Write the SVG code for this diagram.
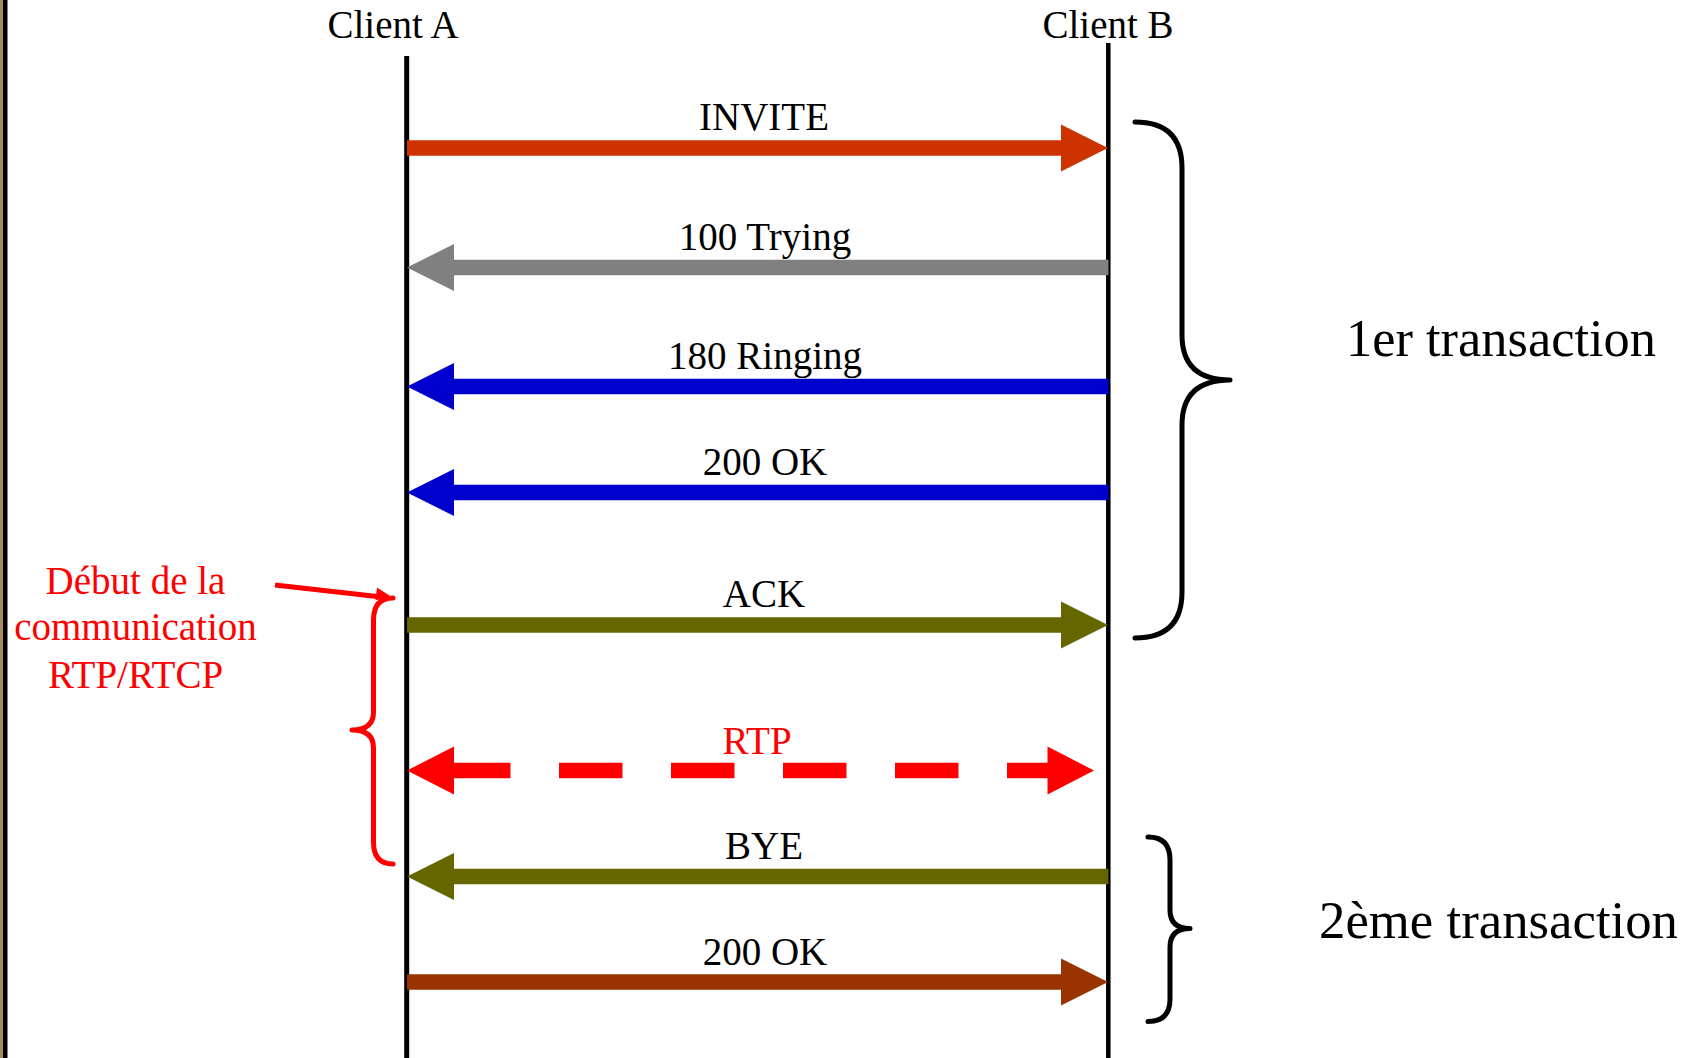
<svg xmlns="http://www.w3.org/2000/svg" width="1701" height="1058" viewBox="0 0 1701 1058">
<style>
  text { font-family: "Liberation Serif", "Times New Roman", serif; }
  .lbl { font-size: 39px; fill: #000; text-anchor: middle; }
  .red { fill: #FF0000; }
  .big { font-size: 52px; fill: #000; text-anchor: start; }
  .life { stroke: #000; fill: none; }
  .brace { fill: none; stroke-width: 5; stroke-linecap: round; stroke-linejoin: round; }
  .shaft { stroke-width: 15.5; fill: none; }
  .c-invite { stroke: #CC3300; fill: #CC3300; }
  .c-gray { stroke: #808080; fill: #808080; }
  .c-blue { stroke: #0000CC; fill: #0000CC; }
  .c-olive { stroke: #666600; fill: #666600; }
  .c-red { stroke: #FF0000; fill: #FF0000; }
  .c-brown { stroke: #993300; fill: #993300; }
  .head { stroke: none; }
</style>
<rect width="1701" height="1058" fill="#FFFFFF"/>
<g id="border">
  <rect x="0" y="0" width="3" height="1058" fill="#A88A5C"/>
  <rect x="3" y="0" width="4.5" height="1058" fill="#000"/>
</g>
<g id="client-a">
  <text class="lbl" x="393" y="38">Client A</text>
  <line class="life" x1="406.7" y1="56" x2="406.7" y2="1058" stroke-width="5"/>
</g>
<g id="client-b">
  <text class="lbl" x="1108" y="38">Client B</text>
  <line class="life" x1="1108.3" y1="43" x2="1108.3" y2="1058" stroke-width="4.5"/>
</g>
<g id="transaction-1">
  <path class="brace" stroke="#000" d="M1135,122 Q1182,122 1182,168 L1182,335 Q1182,380 1230,380 Q1182,380 1182,425 L1182,592 Q1182,638 1135,638"/>
  <text class="big" x="1346" y="356" textLength="310" lengthAdjust="spacingAndGlyphs">1er transaction</text>
</g>
<g id="transaction-2">
  <path class="brace" stroke="#000" d="M1148,837 Q1170,837 1170,860 L1170,910 Q1170,928.5 1190,928.5 Q1170,928.5 1170,947 L1170,999 Q1170,1021.5 1148,1021.5"/>
  <text class="big" x="1319" y="938" textLength="359" lengthAdjust="spacingAndGlyphs">2ème transaction</text>
</g>
<g id="rtp-communication">
  <text class="lbl red" x="135.5" y="593.5">Début de la</text>
  <text class="lbl red" x="135.5" y="640">communication</text>
  <text class="lbl red" x="135.5" y="688">RTP/RTCP</text>
  <line x1="275" y1="585" x2="386" y2="597.6" stroke="#FF0000" stroke-width="5"/>
  <polygon points="394,598.6 377,587.5 375.5,600" fill="#FF0000"/>
  <path class="brace" stroke="#FF0000" d="M393,598 Q373.5,598 373.5,620 L373.5,712 Q373.5,730 352,730 Q373.5,730 373.5,748 L373.5,842 Q373.5,864 393,864"/>
</g>
<g id="connectors">
  <g id="msg-invite">
    <line class="shaft c-invite" x1="407" y1="148" x2="1063" y2="148"/>
    <polygon class="head c-invite" points="1108,148 1061,124.5 1061,171.5"/>
    <text class="lbl" x="764" y="130">INVITE</text>
  </g>
  <g id="msg-100">
    <line class="shaft c-gray" x1="1108.5" y1="267.5" x2="452" y2="267.5"/>
    <polygon class="head c-gray" points="407,267.5 454,244 454,291"/>
    <text class="lbl" x="765" y="250">100 Trying</text>
  </g>
  <g id="msg-180">
    <line class="shaft c-blue" x1="1108.5" y1="386.5" x2="452" y2="386.5"/>
    <polygon class="head c-blue" points="407,386.5 454,363 454,410"/>
    <text class="lbl" x="765" y="369">180 Ringing</text>
  </g>
  <g id="msg-200a">
    <line class="shaft c-blue" x1="1108.5" y1="492.5" x2="452" y2="492.5"/>
    <polygon class="head c-blue" points="407,492.5 454,469 454,516"/>
    <text class="lbl" x="765" y="475">200 OK</text>
  </g>
  <g id="msg-ack">
    <line class="shaft c-olive" x1="407" y1="625" x2="1063" y2="625"/>
    <polygon class="head c-olive" points="1108,625 1061,601.5 1061,648.5"/>
    <text class="lbl" x="764" y="607">ACK</text>
  </g>
  <g id="msg-rtp">
    <line class="shaft c-red" x1="447" y1="770.5" x2="1054" y2="770.5" stroke-dasharray="63.5 48.5"/>
    <polygon class="head c-red" points="407,770.5 454,746.5 454,794.5"/>
    <polygon class="head c-red" points="1094,770.5 1047.5,746.5 1047.5,794.5"/>
    <text class="lbl red" x="757" y="754">RTP</text>
  </g>
  <g id="msg-bye">
    <line class="shaft c-olive" x1="1108.5" y1="876.5" x2="452" y2="876.5"/>
    <polygon class="head c-olive" points="407,876.5 454,853 454,900"/>
    <text class="lbl" x="764" y="859">BYE</text>
  </g>
  <g id="msg-200b">
    <line class="shaft c-brown" x1="407" y1="982" x2="1063" y2="982"/>
    <polygon class="head c-brown" points="1108,982 1061,958.5 1061,1005.5"/>
    <text class="lbl" x="765" y="965">200 OK</text>
  </g>
</g>
</svg>
